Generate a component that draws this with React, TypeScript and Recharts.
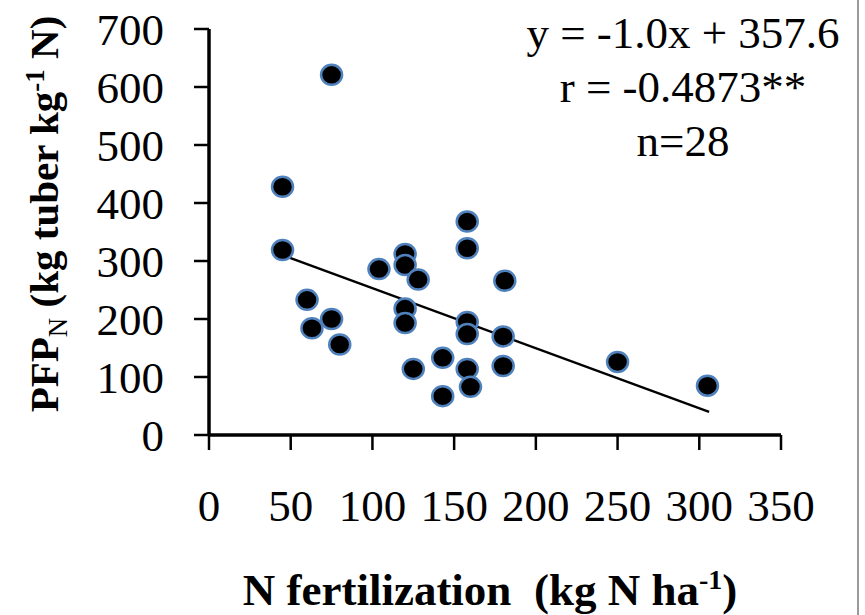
import { ScatterChart, Scatter, XAxis, YAxis } from "recharts";

// N rate (kg N/ha) and PFP_N (kg tuber / kg N)
const nRate = [75, 45, 45, 60, 63, 75, 80, 104, 120, 120, 128, 120, 120, 125, 143, 143, 158, 158, 158, 158, 158, 160, 181, 180, 180, 250, 305];
const pfp = [621, 428, 319, 233, 184, 200, 156, 286, 312, 293, 268, 218, 193, 114, 133, 67, 368, 322, 195, 174, 114, 83, 266, 170, 119, 126, 85];

// fitted line end points
const fitX = [45, 306];
const fitY = [310, 40];

const xTicks = [0, 50, 100, 150, 200, 250, 300, 350];
const yTicks = [0, 100, 200, 300, 400, 500, 600, 700];

const points = nRate.map((x, i) => ({ x, y: pfp[i] }));
const fitLine = fitX.map((x, i) => ({ x, y: fitY[i] }));

const SERIF = "'Liberation Serif', 'Times New Roman', serif";
const tickStyle = { fontSize: 45, fill: "#000", fontFamily: SERIF };

function Dot({ cx, cy }: any) {
  if (cx == null || cy == null) return null;
  return <ellipse cx={cx} cy={cy} rx={10.5} ry={10} fill="#000" stroke="#4F81BD" strokeWidth={2.5} />;
}

export default function App() {
  return (
    <div style={{ position: "absolute", top: 0, left: 0, width: 865, height: 615, background: "#fff", fontFamily: SERIF }}>
      <ScatterChart width={865} height={615} margin={{ top: 29, right: 84, bottom: 80, left: 109 }}>
        <XAxis
          type="number"
          dataKey="x"
          domain={[0, 350]}
          ticks={xTicks}
          height={100}
          tick={tickStyle}
          tickSize={15}
          tickMargin={39}
          axisLine={{ stroke: "#000", strokeWidth: 3.5 }}
          tickLine={{ stroke: "#000", strokeWidth: 2.5 }}
          allowDataOverflow
        />
        <YAxis
          type="number"
          dataKey="y"
          domain={[0, 700]}
          ticks={yTicks}
          width={100}
          tick={tickStyle}
          tickSize={15}
          tickMargin={30}
          axisLine={{ stroke: "#000", strokeWidth: 3.5 }}
          tickLine={{ stroke: "#000", strokeWidth: 2.5 }}
          allowDataOverflow
        />
        <Scatter
          data={fitLine}
          line={{ stroke: "#000", strokeWidth: 2.5 }}
          shape={() => null}
          isAnimationActive={false}
        />
        <Scatter data={points} shape={<Dot />} isAnimationActive={false} />
      </ScatterChart>

      {/* regression annotation */}
      <div style={{ position: "absolute", left: 503, top: 6, width: 360, textAlign: "center", fontSize: 45, lineHeight: "54px", color: "#000" }}>
        <div>y = -1.0x + 357.6</div>
        <div>r = -0.4873**</div>
        <div>n=28</div>
      </div>

      {/* y axis title */}
      <div
        style={{
          position: "absolute",
          left: 47,
          top: 214,
          transform: "translate(-50%, -50%) rotate(-90deg)",
          whiteSpace: "nowrap",
          fontSize: 41,
          fontWeight: "bold",
          color: "#000",
        }}
      >
        PFP<sub style={{ fontSize: 27, fontWeight: "normal" }}>N</sub> (kg tuber kg<sup style={{ fontSize: 27 }}>-1</sup> N)
      </div>

      {/* x axis title */}
      <div
        style={{
          position: "absolute",
          left: 490,
          top: 590,
          transform: "translate(-50%, -50%)",
          whiteSpace: "pre",
          fontSize: 45,
          fontWeight: "bold",
          color: "#000",
        }}
      >
        N fertilization  (kg N ha<sup style={{ fontSize: 28 }}>-1</sup>)
      </div>

      {/* frame edge on the right */}
      <div style={{ position: "absolute", left: 857, top: 0, width: 2, height: 615, background: "#9a9a9a" }} />
    </div>
  );
}
